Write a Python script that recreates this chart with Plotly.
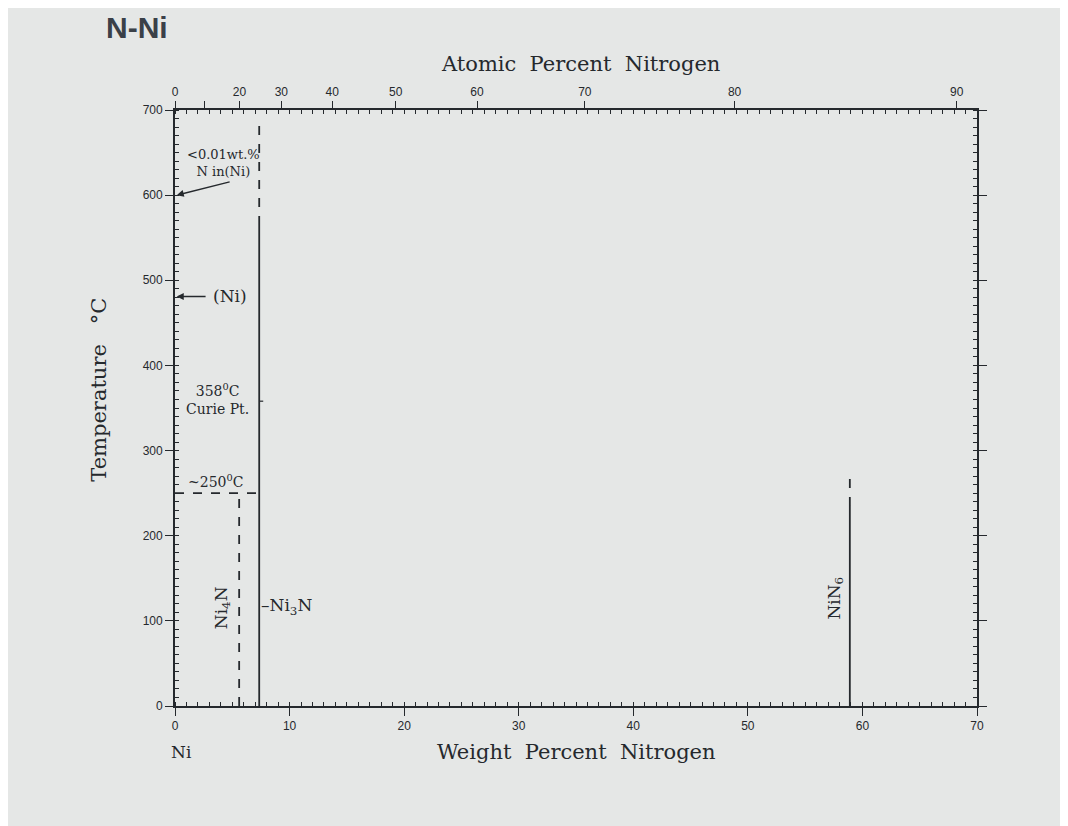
import plotly.graph_objects as go

# compositions (wt.% N) and temperatures (°C)
NI4N_WT = 5.6
NI3N_WT = 7.35
NIN6_WT = 58.9
NI3N_SOLID_TOP = 565
NI3N_DASH_TOP = 688
NI4N_TOP = 250
NIN6_SOLID_TOP = 235
NIN6_DASH_TOP = 272
CURIE_T = 358
SOLUB_T = 600
NI_ARROW_T = 481

# axes
WT_TICKS = [0, 10, 20, 30, 40, 50, 60, 70]
WT_MINOR = list(range(0, 71))
T_TICKS = [0, 100, 200, 300, 400, 500, 600, 700]
T_MINOR = list(range(0, 701, 10))
AT_TICKS = [0, 10, 20, 30, 40, 50, 60, 70, 80, 90]
AT_LABELS = ["0", "", "20", "30", "40", "50", "60", "70", "80", "90"]

M_N, M_NI = 14.007, 58.69


def at_to_wt(a):
    # atomic % N -> weight % N
    return 100 * a * M_N / (a * M_N + (100 - a) * M_NI)


INK = "#25292d"
BG = "#e5e7e6"
SERIF = "DejaVu Serif"
SANS = "Liberation Sans"

fig = go.Figure()

solid = dict(color=INK, width=1.8)
dashed = dict(color=INK, width=1.8, dash="dash")

# Ni3N
fig.add_trace(go.Scatter(x=[NI3N_WT, NI3N_WT], y=[0, NI3N_SOLID_TOP], mode="lines", line=solid))
fig.add_trace(go.Scatter(x=[NI3N_WT, NI3N_WT], y=[NI3N_SOLID_TOP, NI3N_DASH_TOP], mode="lines", line=dashed))
# Ni4N + ~250 C
fig.add_trace(go.Scatter(x=[NI4N_WT, NI4N_WT], y=[0, NI4N_TOP], mode="lines", line=dashed))
fig.add_trace(go.Scatter(x=[0, NI3N_WT], y=[NI4N_TOP, NI4N_TOP], mode="lines", line=dashed))
# NiN6
fig.add_trace(go.Scatter(x=[NIN6_WT, NIN6_WT], y=[0, NIN6_SOLID_TOP], mode="lines", line=solid))
fig.add_trace(go.Scatter(x=[NIN6_WT, NIN6_WT], y=[NIN6_SOLID_TOP, NIN6_DASH_TOP], mode="lines", line=dashed))
# Curie point mark
fig.add_trace(go.Scatter(x=[NI3N_WT, NI3N_WT + 0.35], y=[CURIE_T, CURIE_T], mode="lines",
                         line=dict(color=INK, width=1.2)))
# dummy trace so the atomic-percent axis is drawn
fig.add_trace(go.Scatter(x=[0], y=[0], xaxis="x2", mode="markers", marker=dict(opacity=0)))

lab = dict(family=SERIF, size=17, color=INK)
small = dict(family=SERIF, size=13, color=INK)
mid = dict(family=SERIF, size=14, color=INK)
big = dict(family=SERIF, size=21, color=INK)

ann = [
    dict(x=4.2, y=638, text="<0.01wt.%<br>N in(Ni)", font=small, showarrow=False),
    dict(x=0.15, y=SOLUB_T, ax=4.9, ay=616, axref="x", ayref="y", xref="x", yref="y",
         text="", showarrow=True, arrowhead=2, arrowsize=1, arrowwidth=1.4, arrowcolor=INK),
    dict(x=3.1, y=NI_ARROW_T, xanchor="left", text="(Ni)", font=lab, showarrow=False),
    dict(x=0.15, y=NI_ARROW_T, ax=2.8, ay=NI_ARROW_T, axref="x", ayref="y", xref="x", yref="y",
         text="", showarrow=True, arrowhead=2, arrowsize=1, arrowwidth=1.4, arrowcolor=INK),
    dict(x=3.7, y=CURIE_T + 3, text="358<sup>0</sup>C<br>Curie Pt.", font=mid, showarrow=False),
    dict(x=3.5, y=264, text="~250<sup>0</sup>C", font=mid, showarrow=False),
    dict(x=4.1, y=116, text="Ni<sub>4</sub>N", textangle=-90, font=lab, showarrow=False),
    dict(x=NI3N_WT, y=117, xanchor="left", text="–Ni<sub>3</sub>N", font=lab, showarrow=False),
    dict(x=NIN6_WT - 0.05, y=127, xanchor="right", text="NiN<sub>6</sub>", textangle=-90, font=lab,
         showarrow=False),
    dict(x=0.6, y=-0.078, yref="paper", yanchor="middle", text="Ni", font=lab, showarrow=False),
    dict(x=0.5, y=-0.078, xref="paper", yref="paper", yanchor="middle",
         text="Weight  Percent  Nitrogen", font=big, showarrow=False),
    dict(x=0.505, y=1.077, xref="paper", yref="paper", yanchor="middle",
         text="Atomic  Percent  Nitrogen", font=big, showarrow=False),
    dict(x=-0.094, y=0.53, xref="paper", yref="paper", xanchor="center", yanchor="middle",
         text="Temperature   °C", textangle=-90, font=big, showarrow=False),
    dict(x=-0.088, y=1.139, xref="paper", yref="paper", xanchor="left", yanchor="middle",
         text="<b>N-Ni</b>", font=dict(family=SANS, size=30, color="#3a4048"), showarrow=False),
]

axis_common = dict(showgrid=False, zeroline=False, showline=True, linecolor=INK, linewidth=1.8,
                   tickcolor=INK, tickfont=dict(family=SANS, size=12, color=INK))

fig.update_layout(
    width=1068, height=826,
    paper_bgcolor=BG, plot_bgcolor=BG,
    margin=dict(l=167, r=99, t=102, b=128),
    showlegend=False,
    annotations=ann,
    xaxis=dict(range=[0, 70], tickvals=WT_TICKS, ticks="outside", ticklen=8, mirror=True,
               minor=dict(tickvals=WT_MINOR, ticks="inside", ticklen=4, tickcolor=INK),
               **axis_common),
    xaxis2=dict(range=[0, 70], overlaying="x", side="top",
                tickvals=[at_to_wt(a) for a in AT_TICKS], ticktext=AT_LABELS,
                ticks="outside", ticklen=7,
                minor=dict(tickvals=WT_MINOR, ticks="inside", ticklen=4, tickcolor=INK),
                **axis_common),
    yaxis=dict(range=[0, 700], tickvals=T_TICKS, ticks="outside", ticklen=8, mirror="ticks",
               minor=dict(tickvals=T_MINOR, ticks="inside", ticklen=4, tickcolor=INK),
               **axis_common),
)

fig.write_html("out.html")
